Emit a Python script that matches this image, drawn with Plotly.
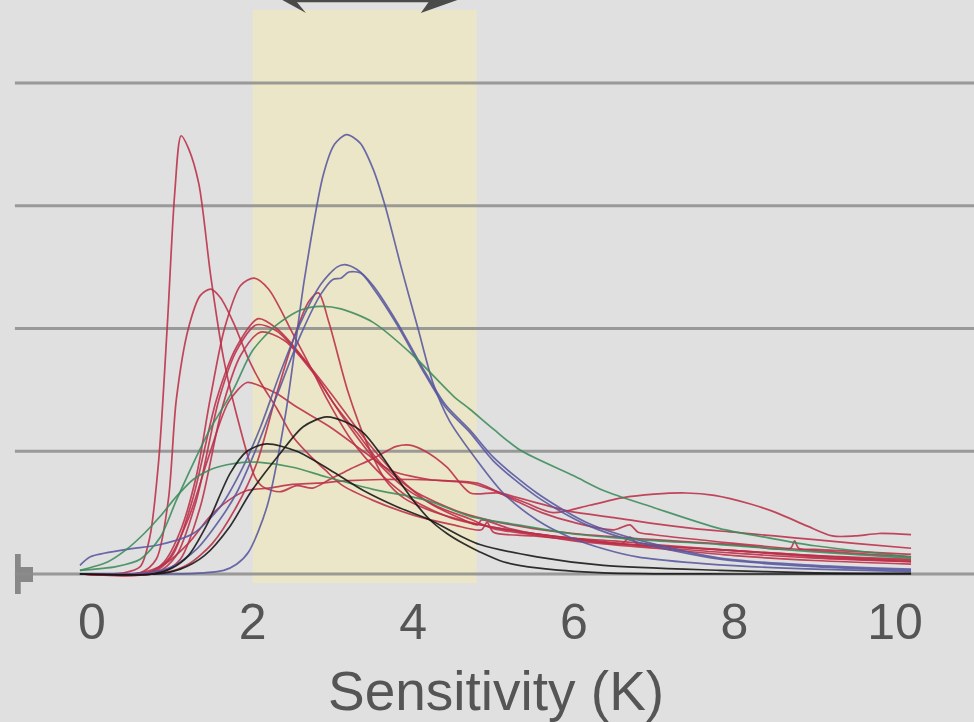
import plotly.graph_objects as go

# ---- probability densities of climate sensitivity (K) ----
red_color = "#bc2f48"
blue_color = "#5858a0"
green_color = "#3c8c5c"
black_color = "#151515"

# red family
r1_x = [-0.15, 0.4, 0.6, 0.72, 0.83, 0.94, 1.03, 1.11, 1.2, 1.33, 1.48, 1.64, 1.8, 2.03, 2.13, 2.34, 2.55,
        2.75, 2.96, 3.2, 3.5, 3.79, 3.96, 4.15, 4.42, 4.71, 5.05, 5.4, 5.74, 6.2, 6.6, 7.0, 7.4, 7.75,
        8.2, 8.52, 8.91, 9.22, 9.5, 9.8, 10.2]
r1_y = [0, 0.001, 0.006, 0.03, 0.092, 0.205, 0.31, 0.357, 0.347, 0.318, 0.242, 0.175, 0.13, 0.079, 0.071,
        0.067, 0.072, 0.07, 0.077, 0.085, 0.094, 0.104, 0.105, 0.1, 0.087, 0.066, 0.066, 0.058, 0.05,
        0.056, 0.062, 0.065, 0.066, 0.064, 0.057, 0.05, 0.039, 0.031, 0.031, 0.033, 0.032]

r2_x = [-0.15, 0.6, 0.8, 0.95, 1.05, 1.2, 1.35, 1.48, 1.6, 1.76, 1.95, 2.1, 2.3, 2.5, 2.72, 2.9, 3.1, 3.5,
        4.0, 4.5, 4.85, 4.92, 5.0, 5.5, 6.0, 6.5, 7.0, 7.5, 8.0, 8.5, 9.0, 9.5, 10.2]
r2_y = [0, 0.001, 0.012, 0.06, 0.142, 0.2, 0.227, 0.232, 0.225, 0.205, 0.175, 0.156, 0.135, 0.112, 0.096,
        0.085, 0.073, 0.06, 0.048, 0.04, 0.036, 0.042, 0.034, 0.031, 0.028, 0.025, 0.023, 0.021, 0.019,
        0.017, 0.015, 0.013, 0.011]

r3_x = [-0.15, 0.7, 0.9, 1.1, 1.3, 1.47, 1.65, 1.85, 2.02, 2.2, 2.5, 2.75, 2.93, 3.2, 3.4, 3.7, 4.0, 4.5,
        5.0, 5.5, 6.0, 6.6, 6.7, 6.8, 7.0, 8.0, 9.0, 10.2]
r3_y = [0, 0.001, 0.01, 0.035, 0.08, 0.142, 0.2, 0.235, 0.241, 0.232, 0.196, 0.165, 0.142, 0.112, 0.095,
        0.075, 0.06, 0.045, 0.038, 0.033, 0.029, 0.025, 0.03, 0.024, 0.023, 0.019, 0.015, 0.012]

r4_x = [-0.15, 0.75, 1.0, 1.25, 1.55, 1.8, 2.07, 2.3, 2.71, 3.0, 3.3, 3.6, 4.0, 4.3, 4.6, 5.0, 5.5, 6.0,
        7.0, 8.0, 8.7, 8.75, 8.8, 9.0, 10.2]
r4_y = [0, 0.001, 0.015, 0.06, 0.142, 0.185, 0.208, 0.2, 0.169, 0.14, 0.115, 0.09, 0.068, 0.058, 0.05,
        0.043, 0.037, 0.033, 0.028, 0.024, 0.021, 0.027, 0.021, 0.02, 0.016]

r5_x = [-0.15, 0.8, 1.05, 1.3, 1.58, 1.8, 2.05, 2.3, 2.7, 3.0, 3.4, 3.8, 4.2, 4.6, 4.8, 4.85, 5.2, 5.6,
        6.0, 6.5, 7.0, 8.0, 9.0, 10.2]
r5_y = [0, 0.001, 0.015, 0.06, 0.142, 0.182, 0.203, 0.198, 0.17, 0.145, 0.11, 0.08, 0.058, 0.045, 0.04,
        0.044, 0.037, 0.032, 0.029, 0.027, 0.024, 0.019, 0.014, 0.01]

r6_x = [-0.15, 0.85, 1.1, 1.35, 1.62, 1.85, 2.1, 2.4, 2.8, 3.1, 3.5, 3.9, 4.3, 4.7, 5.0, 5.5, 6.0, 7.0,
        8.0, 9.0, 10.2]
r6_y = [0, 0.001, 0.012, 0.055, 0.135, 0.178, 0.197, 0.19, 0.16, 0.13, 0.095, 0.07, 0.055, 0.045, 0.037,
        0.032, 0.027, 0.021, 0.015, 0.011, 0.008]

r7_x = [-0.15, 0.7, 0.95, 1.2, 1.45, 1.7, 1.93, 2.1, 2.3, 2.55, 2.96, 3.38, 3.7, 4.2, 4.71, 5.1, 5.54,
        5.95, 6.5, 7.0, 7.5, 8.0, 8.5, 9.0, 9.5, 10.2]
r7_y = [0, 0.001, 0.012, 0.045, 0.095, 0.14, 0.156, 0.153, 0.147, 0.136, 0.12, 0.1, 0.085, 0.077, 0.074,
        0.066, 0.058, 0.051, 0.046, 0.041, 0.037, 0.034, 0.031, 0.028, 0.025, 0.021]

r8_x = [-0.15, 0.9, 1.2, 1.5, 1.8, 2.05, 2.3, 2.55, 2.7, 2.82, 2.95, 3.19, 3.42, 3.65, 3.88, 4.2, 4.6,
        5.0, 5.5, 6.0, 7.0, 8.0, 9.0, 10.2]
r8_y = [0, 0.001, 0.008, 0.025, 0.055, 0.09, 0.147, 0.199, 0.222, 0.229, 0.205, 0.148, 0.107, 0.077,
        0.062, 0.052, 0.044, 0.038, 0.033, 0.029, 0.022, 0.017, 0.013, 0.01]

r9_x = [-0.15, 0.6, 0.9, 1.2, 1.47, 1.7, 1.93, 2.2, 2.5, 2.8, 3.2, 3.6, 4.0, 4.4, 4.8, 5.2, 5.6, 6.0,
        6.5, 6.7, 6.8, 7.0, 8.0, 9.0, 10.2]
r9_y = [0, 0.001, 0.008, 0.025, 0.047, 0.06, 0.068, 0.07, 0.073, 0.074, 0.076, 0.077, 0.077, 0.076,
        0.074, 0.062, 0.05, 0.042, 0.036, 0.04, 0.034, 0.032, 0.025, 0.019, 0.014]

# blue family
b1_x = [-0.15, 1.0, 1.4, 1.64, 1.8, 1.95, 2.18, 2.41, 2.65, 2.88, 3.02, 3.17, 3.34, 3.5, 3.65, 3.85,
        4.06, 4.25, 4.45, 4.71, 5.12, 5.54, 5.95, 6.4, 6.79, 7.5, 8.2, 9.0, 10.2]
b1_y = [0, 0, 0.001, 0.003, 0.008, 0.018, 0.055, 0.13, 0.242, 0.325, 0.35, 0.358, 0.351, 0.33, 0.3,
        0.25, 0.2, 0.155, 0.125, 0.1, 0.066, 0.044, 0.03, 0.02, 0.014, 0.009, 0.006, 0.004, 0.002]

b2_x = [-0.15, -0.02, 0.43, 0.85, 1.26, 1.6, 1.88, 2.1, 2.35, 2.6, 2.85, 3.05, 3.15, 3.3, 3.5, 3.8, 4.1,
        4.4, 4.71, 5.0, 5.54, 6.16, 6.79, 7.82, 9.0, 10.2]
b2_y = [0.007, 0.014, 0.02, 0.024, 0.033, 0.055, 0.087, 0.12, 0.165, 0.205, 0.236, 0.25, 0.252, 0.248,
        0.235, 0.205, 0.17, 0.138, 0.117, 0.095, 0.066, 0.042, 0.028, 0.013, 0.007, 0.004]

b3_x = [-0.15, 0.7, 1.0, 1.3, 1.6, 1.8, 2.0, 2.3, 2.6, 2.85, 3.0, 3.1, 3.2, 3.35, 3.5, 3.8, 4.1, 4.4,
        4.71, 5.0, 5.54, 6.16, 6.79, 7.82, 9.0, 10.2]
b3_y = [0, 0.001, 0.006, 0.02, 0.045, 0.066, 0.095, 0.145, 0.195, 0.228, 0.24, 0.241, 0.246, 0.245,
        0.233, 0.203, 0.168, 0.136, 0.115, 0.092, 0.063, 0.04, 0.026, 0.012, 0.006, 0.003]

# green family
g1_x = [-0.15, 0.3, 0.6, 0.85, 1.05, 1.26, 1.47, 1.76, 2.0, 2.3, 2.6, 2.85, 3.1, 3.5, 4.0, 4.5, 4.71,
        5.0, 5.33, 6.0, 6.37, 7.0, 7.82, 8.38, 9.0, 10.2]
g1_y = [0.003, 0.006, 0.012, 0.03, 0.06, 0.09, 0.118, 0.15, 0.182, 0.203, 0.215, 0.218, 0.216, 0.205,
        0.178, 0.145, 0.134, 0.118, 0.101, 0.08, 0.068, 0.054, 0.037, 0.03, 0.023, 0.014]

g2_x = [-0.15, 0.2, 0.43, 0.65, 0.85, 1.05, 1.26, 1.47, 1.68, 1.88, 2.09, 2.5, 2.92, 3.5, 4.17, 4.71,
        5.3, 5.95, 6.8, 7.82, 9.0, 10.2]
g2_y = [0.003, 0.01, 0.02, 0.033, 0.047, 0.063, 0.077, 0.085, 0.089, 0.091, 0.091, 0.087, 0.079, 0.069,
        0.06, 0.047, 0.04, 0.033, 0.028, 0.024, 0.018, 0.013]

# black family
k1_x = [-0.15, 0.75, 1.0, 1.2, 1.43, 1.72, 1.93, 2.17, 2.55, 2.96, 3.38, 3.79, 4.21, 4.62, 4.83, 5.54,
        6.37, 7.82, 9.0, 10.2]
k1_y = [0, 0, 0.005, 0.015, 0.04, 0.082, 0.1, 0.106, 0.1, 0.085, 0.068, 0.055, 0.044, 0.03, 0.024,
        0.014, 0.007, 0.003, 0.001, 0.0005]

k2_x = [-0.15, 0.8, 1.1, 1.4, 1.72, 1.97, 2.34, 2.63, 2.92, 3.15, 3.38, 3.59, 3.79, 4.0, 4.21, 4.42,
        4.62, 4.83, 5.12, 5.54, 6.37, 8.0, 10.2]
k2_y = [0, 0, 0.004, 0.015, 0.039, 0.066, 0.098, 0.12, 0.128, 0.124, 0.115, 0.098, 0.079, 0.06, 0.044,
        0.033, 0.025, 0.018, 0.01, 0.005, 0.001, 0, 0]

series = [
    (r1_x, r1_y, red_color), (r2_x, r2_y, red_color), (r3_x, r3_y, red_color),
    (r4_x, r4_y, red_color), (r5_x, r5_y, red_color), (r6_x, r6_y, red_color),
    (r7_x, r7_y, red_color), (r8_x, r8_y, red_color), (r9_x, r9_y, red_color),
    (b1_x, b1_y, blue_color), (b2_x, b2_y, blue_color), (b3_x, b3_y, blue_color),
    (g1_x, g1_y, green_color), (g2_x, g2_y, green_color),
    (k1_x, k1_y, black_color), (k2_x, k2_y, black_color),
]

x_ticks = [0, 2, 4, 6, 8, 10]
grid_levels = [0, 0.1, 0.2, 0.3, 0.4]
likely_range = [2.0, 4.79]

fig = go.Figure()
for xs, ys, col in series:
    fig.add_trace(go.Scatter(x=xs, y=ys, mode="lines",
                             line=dict(color=col, width=1.7, shape="spline", smoothing=0.8),
                             opacity=0.88, hoverinfo="skip", showlegend=False))

shapes = []
# shaded likely range
shapes.append(dict(type="rect", xref="x", yref="y", x0=likely_range[0], x1=likely_range[1],
                   y0=-0.0073, y1=0.4595, fillcolor="#ece6c8", line=dict(width=0), layer="below"))
# horizontal rules
for g in grid_levels:
    shapes.append(dict(type="line", xref="x", yref="y", x0=-0.96, x1=11.2, y0=g, y1=g,
                       line=dict(color="rgba(140,140,140,0.85)", width=3), layer="below"))
# axis stub at the left (paper coordinates so it is not clipped by the plot area)
shapes.append(dict(type="rect", xref="paper", yref="paper", x0=0.0154, x1=0.0213, y0=-0.0102, y1=0.0578,
                   fillcolor="#888888", line=dict(width=0), layer="below"))
shapes.append(dict(type="rect", xref="paper", yref="paper", x0=0.0205, x1=0.0339, y0=0.0102, y1=0.0357,
                   fillcolor="#888888", line=dict(width=0), layer="below"))
# double arrow over the range
ytop = 0.4676
yb = 0.457
shapes.append(dict(type="path", xref="x", yref="y",
                   path=f"M 2.07,{ytop + 0.01} L 2.37,{ytop} L 2.665,{yb} L 2.53,{ytop} Z",
                   fillcolor="#4a4a4a", line=dict(width=0)))
shapes.append(dict(type="path", xref="x", yref="y",
                   path=f"M 4.69,{ytop + 0.01} L 4.55,{ytop} L 4.095,{yb} L 4.21,{ytop} Z",
                   fillcolor="#4a4a4a", line=dict(width=0)))
shapes.append(dict(type="line", xref="x", yref="y", x0=2.45, x1=4.25, y0=ytop - 0.0007, y1=ytop - 0.0007,
                   line=dict(color="#4a4a4a", width=3)))

fig.update_layout(
    width=974, height=722,
    margin=dict(l=0, r=0, t=0, b=134),
    paper_bgcolor="#e0e0e0", plot_bgcolor="#e0e0e0",
    shapes=shapes,
    xaxis=dict(range=[-1.1457, 10.984], tickvals=x_ticks, ticktext=[str(t) for t in x_ticks],
               showgrid=False, zeroline=False, showline=False, ticks="",
               tickfont=dict(family="Liberation Sans, Arial, sans-serif", size=50, color="#555555")),
    yaxis=dict(range=[-0.0114, 0.4676], showgrid=False, zeroline=False, showline=False,
               showticklabels=False, ticks=""),
    annotations=[dict(text="Sensitivity (K)", xref="x", yref="paper", x=5.025, y=-0.175,
                      xanchor="center", yanchor="middle", showarrow=False,
                      font=dict(family="Liberation Sans, Arial, sans-serif", size=55, color="#555555"))],
)

fig.write_html("out.html")
